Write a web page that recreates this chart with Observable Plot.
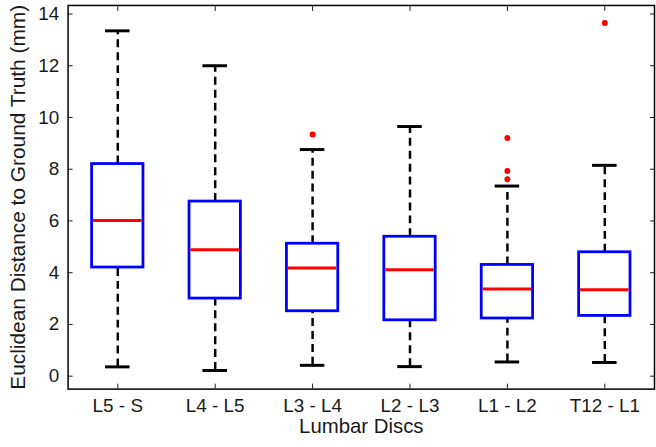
<!DOCTYPE html>
<html>
<head>
<meta charset="utf-8">
<script src="https://cdn.jsdelivr.net/npm/d3@7"></script>
<script src="https://cdn.jsdelivr.net/npm/@observablehq/plot@0.6"></script>
<style>
  html, body { margin: 0; padding: 0; background: #fff; overflow: hidden; }
  #chart svg { display: block; }
</style>
</head>
<body>
<div id="chart"></div>
<script>
// ---- data ----
const categories = ["L5 - S", "L4 - L5", "L3 - L4", "L2 - L3", "L1 - L2", "T12 - L1"];
const lowerWhisker = [0.36, 0.22, 0.42, 0.37, 0.55, 0.53];
const q1 = [4.20, 3.00, 2.51, 2.16, 2.23, 2.33];
const median = [6.02, 4.89, 4.18, 4.11, 3.37, 3.34];
const q3 = [8.20, 6.75, 5.12, 5.39, 4.30, 4.79];
const upperWhisker = [13.35, 12.00, 8.76, 9.65, 7.35, 8.15];
const outlierDisc = ["L3 - L4", "L1 - L2", "L1 - L2", "L1 - L2", "T12 - L1"];
const outlierValue = [9.34, 9.21, 7.93, 7.61, 13.65];
const yTicks = [0, 2, 4, 6, 8, 10, 12, 14];
const xLabel = "Lumbar Discs";
const yLabel = "Euclidean Distance to Ground Truth (mm)";

// ---- tables built from the arrays ----
const boxes = categories.map((c, i) => ({
  disc: c, lo: lowerWhisker[i], q1: q1[i], med: median[i], q3: q3[i], hi: upperWhisker[i]
}));
const outliers = outlierDisc.map((c, i) => ({disc: c, value: outlierValue[i]}));

const W = 660, H = 447;
const mL = 68, mR = 2, mT = 5, mB = 56;
const bandW = (W - mL - mR) / categories.length;
const boxInset = (bandW - 52) / 2;
const capInset = (bandW - 25) / 2;
const font = "Liberation Sans, Arial, Helvetica, sans-serif";

const chart = Plot.plot({
  width: W,
  height: H,
  marginLeft: mL,
  marginRight: mR,
  marginTop: mT,
  marginBottom: mB,
  style: {fontFamily: font, color: "#1a1a1a", background: "#fff"},
  x: {type: "band", domain: categories, padding: 0, label: null},
  y: {domain: [-0.5, 14.33], label: null},
  marks: [
    // whiskers
    Plot.ruleX(boxes, {x: "disc", y1: "q3", y2: "hi", stroke: "black", strokeWidth: 2.5, strokeDasharray: "8,5"}),
    Plot.ruleX(boxes, {x: "disc", y1: "lo", y2: "q1", stroke: "black", strokeWidth: 2.5, strokeDasharray: "8,5"}),
    // caps
    Plot.tickY(boxes, {x: "disc", y: "hi", stroke: "black", strokeWidth: 3, insetLeft: capInset, insetRight: capInset}),
    Plot.tickY(boxes, {x: "disc", y: "lo", stroke: "black", strokeWidth: 3, insetLeft: capInset, insetRight: capInset}),
    // boxes
    Plot.barY(boxes, {x: "disc", y1: "q1", y2: "q3", fill: "white", stroke: "#0000ff", strokeWidth: 2.8, insetLeft: boxInset, insetRight: boxInset}),
    // medians
    Plot.tickY(boxes, {x: "disc", y: "med", stroke: "#ff0000", strokeWidth: 3, insetLeft: boxInset + 1.5, insetRight: boxInset + 1.5}),
    // outliers
    Plot.dot(outliers, {x: "disc", y: "value", r: 3, fill: "#ff0000", stroke: "none"}),
    // frame
    Plot.frame({stroke: "black", strokeWidth: 1.5}),
    // axes (MATLAB style: inward ticks on all sides)
    Plot.axisX({anchor: "bottom", tickSize: -5, tickPadding: 15, fontSize: 19, label: null}),
    Plot.axisX({anchor: "top", tickSize: -5, tickFormat: () => "", label: null}),
    Plot.axisY(yTicks, {anchor: "left", tickSize: -5, tickPadding: 14, fontSize: 19, label: null}),
    Plot.axisY(yTicks, {anchor: "right", tickSize: -5, tickFormat: () => "", label: null}),
    // axis titles
    Plot.text([xLabel], {text: d => d, frameAnchor: "bottom", textAnchor: "middle", dy: 44, fontSize: 20.5, fill: "#1a1a1a"}),
    Plot.text([yLabel], {text: d => d, frameAnchor: "left", textAnchor: "middle", lineAnchor: "middle", dx: -50.5, rotate: -90, fontSize: 21, fill: "#1a1a1a"})
  ]
});
document.getElementById("chart").append(chart);
</script>
</body>
</html>
